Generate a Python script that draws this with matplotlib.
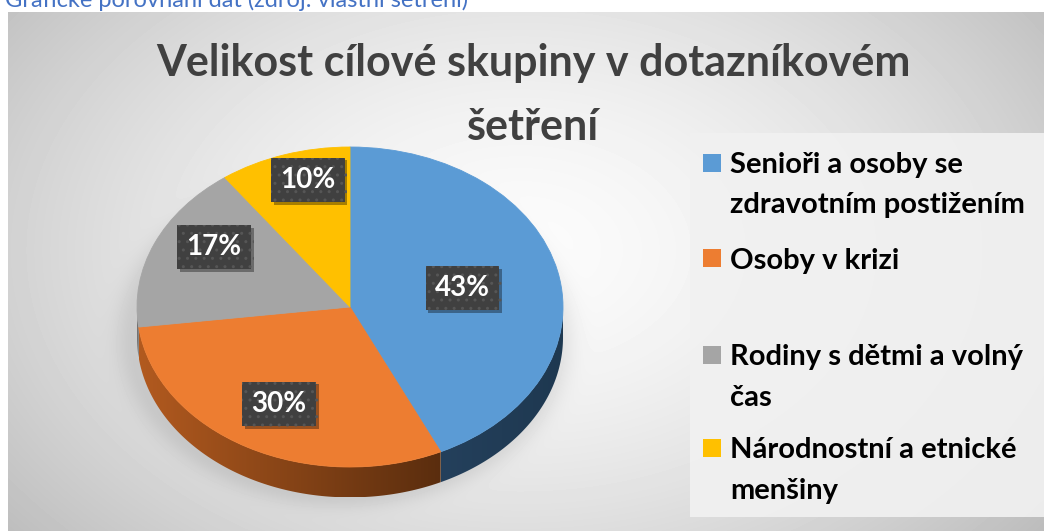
import numpy as np
import matplotlib
matplotlib.use('Agg')
import matplotlib.pyplot as plt
from matplotlib.patches import Rectangle, Polygon
from matplotlib.colors import LinearSegmentedColormap
import matplotlib.patheffects as pe

# ---- data ----
categories = ["Senioři a osoby se\nzdravotním postižením",
              "Osoby v krizi",
              "Rodiny s dětmi a volný\nčas",
              "Národnostní a etnické\nmenšiny"]
values = [43, 30, 17, 10]
pct_labels = ["43%", "30%", "17%", "10%"]
title_lines = ["Velikost cílové skupiny v dotazníkovém", "šetření"]
caption = "Grafické porovnání dat (zdroj: vlastní šetření)"

top_colors = ['#5B9BD5', '#ED7D31', '#A5A5A5', '#FFC000']
side_light = ['#24405C', '#B25A1F', '#7A7A7A', '#B08600']
side_dark = ['#1E3850', '#5A2D0E', '#5E5E5E', '#8A6900']

FONT = ['Lato', 'DejaVu Sans']
W, H = 1044, 531
fig = plt.figure(figsize=(W / 100, H / 100), dpi=100)
fig.patch.set_facecolor('white')

# ---- background radial gradient with soft pie shadow ----
bg = fig.add_axes([8 / W, 0, 1 - 8 / W, (H - 12) / H])
bg.set_axis_off()
yy, xx = np.mgrid[0:519, 0:1036]
cx, cy = 512, 238
r = np.sqrt(((xx - cx) / 620.0) ** 2 + ((yy - cy) / 420.0) ** 2)
val = 0.985 - 0.22 * np.clip(r, 0, 1.5) ** 1.6
sr = np.sqrt(((xx - (345 - 8)) / 228.0) ** 2 + ((yy - (335 - 12)) / 172.0) ** 2)
val -= 0.08 * np.exp(-((np.clip(sr - 0.93, 0, None)) / 0.08) ** 2) * (sr > 0.8)
bg.imshow(val, cmap='gray', vmin=0, vmax=1, aspect='auto', interpolation='bilinear')

# ---- pie (3D look) ----
ax = fig.add_axes([137 / W, (H - 507) / H, 426 / W, 360 / H])
depth = 0.19
total = float(sum(values))
cum = np.cumsum([0] + values)
xmin, xmax, ymin, ymax = -1.0, 1.0, -1.25, 1.0

for i, v in enumerate(values):
    a_start = 90 - 360 * cum[i] / total
    a_end = 90 - 360 * cum[i + 1] / total
    for shift in (0, -360, 360):
        lo = max(a_end + shift, -180)
        hi = min(a_start + shift, 0)
        if hi > lo:
            t = np.radians(np.linspace(lo, hi, 120))
            top = np.column_stack([np.cos(t), np.sin(t)])
            bot = np.column_stack([np.cos(t[::-1]), np.sin(t[::-1]) - depth])
            poly = Polygon(np.vstack([top, bot]), closed=True,
                           facecolor='none', edgecolor='none')
            ax.add_patch(poly)
            cmap = LinearSegmentedColormap.from_list('s', [side_light[i], side_dark[i]])
            grad = np.linspace(0, 1, 256).reshape(1, -1)
            x0, x1 = np.cos(t).min(), np.cos(t).max()
            im = ax.imshow(grad, cmap=cmap, aspect='auto',
                           extent=[x0, x1, -1 - depth, 0.1], zorder=1)
            im.set_clip_path(poly)

wedges, _ = ax.pie(values, colors=top_colors, startangle=90, counterclock=False,
                   wedgeprops=dict(linewidth=0.6))
for w in wedges:
    w.set_edgecolor(w.get_facecolor())
    w.set_zorder(2)
ax.set_aspect('auto')
ax.set_xlim(xmin, xmax)
ax.set_ylim(ymin, ymax)
ax.set_axis_off()

label_r = [0.54, 0.69, 0.74, 0.82]
label_shift = [0, 0, -7, -4]
for i, v in enumerate(values):
    mid = np.radians(90 - 360 * (cum[i] + v / 2.0) / total + label_shift[i])
    x, y = label_r[i] * np.cos(mid), label_r[i] * np.sin(mid)
    t = ax.text(x, y, pct_labels[i], ha='center', va='center', color='white',
                fontsize=20, fontweight='bold', family=FONT, zorder=5,
                bbox=dict(boxstyle='square,pad=0.33', facecolor='#404040',
                          edgecolor='#565656', linewidth=0, hatch='..'))
    t.get_bbox_patch().set_path_effects([
        pe.SimplePatchShadow(offset=(2, -2), shadow_rgbFace='#000000', alpha=0.35),
        pe.Normal()])

# ---- overlay for texts / legend ----
ov = fig.add_axes([0, 0, 1, 1], zorder=5)
ov.set_xlim(0, W)
ov.set_ylim(H, 0)
ov.set_axis_off()
ov.patch.set_alpha(0)

ov.text(5, 7, caption, color='#4472C4', fontsize=17, family=FONT,
        ha='left', va='baseline')

title_baselines = [76, 140]
for line, yb in zip(title_lines, title_baselines):
    ov.text(533, yb, line, ha='center', va='baseline',
            fontsize=31, fontweight='bold', color='#404040', family=FONT)

ov.add_patch(Rectangle((690, 133), W - 690, 517 - 133, facecolor='#f1f1f1',
                       edgecolor='none', alpha=0.92, zorder=1))

first_line_y = [163, 258, 355, 448]
line_pitch = 40
for i, lab in enumerate(categories):
    yc = first_line_y[i]
    ov.add_patch(Rectangle((703, yc - 9), 18, 18, facecolor=top_colors[i],
                           edgecolor='none', zorder=2))
    for j, part in enumerate(lab.split('\n')):
        ov.text(730, yc + 10.5 + j * line_pitch, part, ha='left', va='baseline',
                fontsize=21, fontweight='bold', color='black', family=FONT,
                zorder=3)

fig.savefig('out.png', dpi=100)
